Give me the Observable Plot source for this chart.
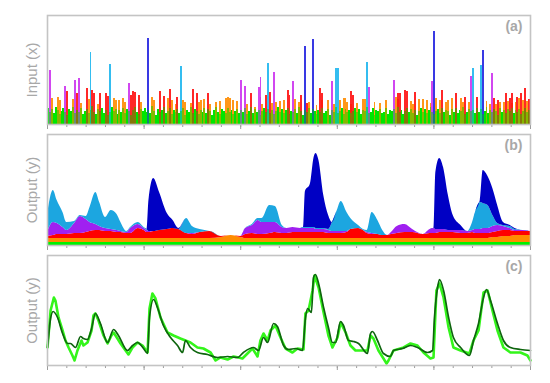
<!DOCTYPE html>
<html><head><meta charset="utf-8">
<script src="https://cdn.jsdelivr.net/npm/d3@7"></script>
<script src="https://cdn.jsdelivr.net/npm/@observablehq/plot@0.6"></script>
<style>
body{margin:0;background:#fff;}
#chart{position:relative;width:550px;height:383px;}
#chart svg{position:absolute;left:0;}
</style></head><body><div id="chart"></div>
<script>
// ---------- shared ----------
const minorTicks = [0,10,20,30,40,50,60,70,80,90,100,110,120,130,140,150,160,170,180,190,200,210,220,230,240,250];
const majorTicks = [0,50,100,150,200,250];
const panelLabels = ["(a)", "(b)", "(c)"];
const yTitles = ["Input (x)", "Output (y)", "Output (y)"];
const layerNames = ["source 1","source 2","source 3","source 4","source 5","source 6"];
const inputColors = ["#00e600","#ff8c00","#ff1010","#cc33ee","#1eb6ee","#2424e0"];
const outputColors = ["#00f000","#ff8c00","#ff0000","#a020f0","#1ca6e0","#0000c4"];

// ---------- panel (a): input spikes ----------
const inGreen = [
16,12,15,11,17,14,10,13,16,12, 9,15,13,17,11,14,12,16,10,13,
15,11,14,18,12,10,15,13,16,11, 14,9,12,17,13,15,10,14,12,16,
11,15,13,9,14,17,12,10,15,13, 16,12,14,11,18,13,9,15,12,14,
17,11,13,16,10,14,12,15,11,13, 16,9,14,12,17,11,15,13,10,14,
12,16,11,15,13,9,14,17,12,10, 15,13,11,16,12,14,10,13,15,11,
14,12,16,10,13,17,11,15,12,14, 9,13,16,12,15,11,14,10,13,17,
12,15,11,14,16,10,13,12,15,11, 17,13,9,14,12,16,11,15,13,10,
14,12,16,11,13,15,9,14,12,17, 11,13,16,10,15,12,14,11,13,16,
12,15,10,14,13,17,11,12,16,9, 14,13,15,11,12,16,10,14,13,15,
11,17,12,14,10,13,16,12,15,11, 14,9,13,16,12,15,11,14,17,12,
10,13,15,11,16,12,14,13,9,15, 12,16,11,14,13,17,10,12,15,13,
14,11,16,12,15,10,13,17,11,14, 12,15,13,9,16,12,14,11,15,13,
16,11,14,12,15,10,13,16,12,14];
const inOrange = [[2,26],[5,27],[6,24],[13,25],[17,21],[21,25],[26,20],[34,26],[35,24],[37,24],[39,26],[40,22],[48,22],
[54,27],[55,24],[62,26],[64,24],[66,20],[70,24],[71,22],[74,21],[78,22],[79,24],[81,25],[84,20],
[87,22],[89,23],[92,26],[93,27],[94,26],[96,24],[98,23],[103,20],[107,17],[111,20],[116,21],[118,22],[120,23],[122,24],
[128,25],[130,22],[135,22],[139,19],[142,24],[145,24],[148,20],[151,24],[153,26],[154,26],[155,22],[157,20],[160,21],[163,25],[164,25],
[169,22],[172,21],[175,24],[180,27],[181,25],[188,23],[189,20],[192,25],[194,25],[196,24],[198,21],[201,26],[203,24],[206,22],
[207,24],[209,26],[214,26],[215,22],[218,22],[227,23],[229,20],[232,20],[234,22],[236,22],[238,23],[240,21],[242,22],[244,26],[246,24],[248,23]];
const inRed = [[10,33],[15,31],[20,36],[23,34],[24,31],[27,31],[30,31],[31,28],[43,29],[44,33],[45,32],[47,29],[58,33],[60,28],[63,35],[67,27],
[75,35],[77,31],[83,31],[105,31],[110,27],[113,29],[115,32],[124,34],[125,29],[131,29],[134,21],[141,36],[142,31],[157,33],[158,29],
[181,31],[182,31],[185,34],[186,33],[190,32],[204,34],[211,31],[216,27],[222,27],[231,26],[233,24],[237,31],[239,26],[240,31],
[243,27],[245,31],[247,36],[249,25]];
const inPurple = [[1,54],[9,38],[14,44],[16,46],[42,41],[100,44],[102,38],[109,37],[110,47],[117,52],[127,43],[147,43],[166,37],[179,44],[199,43],[219,48],[230,51]];
const inLightBlue = [[22,72],[32,60],[69,58],[114,61],[149,56],[150,56],[165,62],[220,56],[224,59]];
const inDarkBlue = [[52,86],[133,78],[137,85],[200,93],[225,74]];

// ---------- panel (b): stacked outputs ----------
const bT = [0,3,5,8,10,14,17,20,22,25,27,30,33,36,38,41,43,47,50,51.5,52.5,55,58,62,65,68,72,75,79,84,90,95,100,102.5,106,109,111,115,118,121.5,124,127,131,132.5,133.5,136,138,139,140.5,143,145.5,147.5,150,152,155,157,161,163.5,165.5,168,171,173.5,176,178,181,185,189,194.5,198,200,201,203,205,207.5,210,214,217.5,220,221.5,224,225.5,228,230.5,233,236,239.5,242,246,250];
const outGreen = [3,3,3,3,3,3,3,3,3,3, 3,3,3,3,3,3,3,3,3,3, 3,3,3,3,3,3,3,3,3,3, 3,3,3,3,3,3,3,3,3,3, 3,3,3,3,3,3,3,3,3,3, 3,3,3,3,3,3,3,3,3,3, 3,3,3,3,3,3,3,3,3,3, 3,3,3,3,3,3,3,3,3,3, 3,3,3,3,3,3,3,3,3];
const outOrange = [4,4,4,4,4,4,4,4,4,4, 4,4,4,4,4,4,4,4,4,4, 4,4,4,4,4,4,4,4,4,4, 5,7,5,4,4,4,4,4,4,4, 4,4,4,4,4,4,4,4,4,4, 4,4,4,4,4,4,4,4,4,4, 4,4,4,4,4,4,4,4,4,4, 4,4,4,4,4,4,4,4,4,4, 4,4,5,5,6,6,7,7,7];
const outRed = [2,3,4,4,4,5,5,6,7,8, 8,7,7,6,6,5,5,10,8,6, 6,7,8,9,10,9,5,4,6,7, 1,0,1,4,5,4,4,5,6,5, 5,6,6,6,6,6,6,6,6,6, 5,5,5,5,6,9,10,8,5,4, 4,3,3,4,5,6,6,4,5,5, 5,6,6,6,6,5,5,6,5,5, 5,5,5,6,6,6,4,4,4];
const outPurple = [4,13,11,7,4,10,17,13,9,6, 4,3,2,2,1,1,5,4,2,2, 1,0,0,0,0,0,0,1,0,0, 0,0,0,6,8,14,12,11,10,6, 5,5,4,4,4,4,4,3,3,3, 3,2,2,2,1,0,0,0,1,1, 0,0,0,2,7,8,3,0,4,5, 4,3,3,2,2,3,2,2,4,4, 5,5,6,6,4,2,1,1,0];
const outLightBlue = [17,32,23,15,8,2,1,3,15,32, 24,11,19,16,9,1,1,2,1,1, 0,0,0,0,0,0,15,7,3,0, 0,0,0,0,1,2,4,17,16,2, 0,0,0,1,1,1,1,1,1,1, 1,9,21,30,19,11,3,1,2,21, 14,5,0,0,0,0,0,0,0,0, 0,0,0,0,0,0,0,8,17,27, 25,23,11,2,1,2,1,0,0];
const outDarkBlue = [0,0,0,0,0,0,0,0,0,0, 0,0,0,0,0,0,0,0,0,0, 31,53,38,16,8,1,0,0,0,0, 0,0,0,0,0,0,0,0,0,0, 0,0,0,0,36,43,70,75,68,33, 14,0,0,0,0,0,0,0,0,0, 0,0,0,0,0,0,0,0,0,0, 57,71,62,35,15,5,0,0,0,2, 33,29,27,18,3,1,1,0,0];

// ---------- panel (c): observed vs model ----------
const obsY = [[0,18],[1.6,55],[3.3,68],[4.1,65],[5.7,48],[7.8,35],[9.3,25],[10.9,18],[12.9,10],[14,5],[15.5,15],[17.6,25],[18.6,20],[20.7,23],[22.8,35],[23.8,50],[24.8,52],[26.4,45],[29,30],[31.1,22],[33.1,30],[34.2,33],[36.2,27],[37.8,22],[40.4,15],[41.9,11],[44,18],[46.6,23],[49.2,20],[51.8,13],[52.8,57],[54.3,72],[55.9,67],[58.5,48],[62.1,33],[65.2,30],[68.8,27],[71.4,25],[74,23],[77.6,18],[80.7,17],[84.4,13],[87,5],[89.5,8],[93.2,6],[96.3,9],[98.9,8],[100.9,7],[103.5,12],[106.1,17],[108.7,9],[110.2,25],[111.8,32],[113.9,25],[115.4,35],[118,40],[120.6,28],[123.2,17],[126.8,13],[129.4,17],[132.5,16],[133.5,52],[135.1,55],[137.2,75],[138.2,90],[140.3,78],[142.9,53],[145.4,30],[147.5,18],[150.1,28],[151.7,43],[154.3,33],[156.8,20],[159.4,15],[163,15],[165.6,15],[167.2,30],[168.7,27],[171.3,15],[173.9,7],[175.5,2],[176.5,5],[179.1,15],[184.3,18],[187.9,22],[191.5,20],[194.6,13],[198.2,7],[199.8,8],[201.3,75],[202.9,82],[205,68],[207.6,38],[210.1,18],[213.8,15],[218.4,12],[220.5,25],[223.1,35],[225.7,73],[227.8,75],[230.3,55],[232.9,35],[236,18],[239.6,13],[244.8,13],[248.4,10],[250,5]];
const modelY = [[0,18],[1.6,47],[2.9,54],[5.2,48],[7.8,32],[10.4,22],[11.9,22],[14.5,18],[17.1,29],[18.6,27],[20.7,26],[22.8,37],[24.8,52],[27.4,42],[31.1,23],[34.2,36],[36.7,30],[41.4,15],[44,20],[46.6,23],[49.7,17],[51.8,12],[52.8,48],[54.9,66],[56.9,58],[60,40],[63.7,28],[67.3,20],[69.9,13],[71.4,25],[74,18],[77.6,13],[82.8,11],[88,8],[93.2,9],[98.3,8],[101.4,13],[106.6,18],[109.2,15],[111.8,28],[113.9,23],[117,42],[119,39],[122.2,20],[124.7,16],[128.4,17],[132,15],[133.5,47],[134.6,57],[136.6,53],[137.7,88],[138.7,91],[140.3,82],[142.9,58],[145.4,38],[147.5,23],[149.1,23],[151.7,44],[153.2,40],[155.8,25],[158.4,24],[161,22],[165.6,12],[167.2,32],[168.2,34],[170.8,25],[173.9,12],[177.5,9],[179.1,15],[183.7,17],[187.9,20],[191.5,18],[196.7,13],[199.3,15],[200.3,48],[201.9,78],[202.9,86],[205,75],[207.6,48],[210.1,28],[213.8,18],[218.4,10],[220.5,25],[223.1,42],[225.7,68],[227.2,76],[229.3,65],[232.9,42],[236,25],[239.6,18],[244.8,16],[250,15]];

// ---------- build ----------
const FONT = "'Liberation Sans', Arial, sans-serif";
const GREY = "#a8a8a8";
function decor(i) {
  return [
    Plot.axisX({ticks: minorTicks, tickSize: 3, tickFormat: () => "", stroke: "#9c9c9c", label: null}),
    Plot.axisX({ticks: majorTicks, tickSize: 5, tickFormat: () => "", stroke: "#9c9c9c", label: null}),
    Plot.frame({stroke: "#c4c4c4", strokeWidth: 1.6}),
    Plot.text([yTitles[i]], {frameAnchor: "left", rotate: -90, textAnchor: "middle", dx: -15, fontSize: 15, fill: GREY}),
    Plot.text([panelLabels[i]], {frameAnchor: "top-right", dx: -8, dy: 6, fontSize: 14, fontWeight: "bold", fill: GREY})
  ];
}
const common = {width: 550, marginLeft: 47, marginRight: 20, style: {background: "none", fontFamily: FONT, overflow: "visible"}};

// panel a
const rowsOf = (arr, s) => arr.map(([t, v]) => ({t0: t, t1: t + 1, v, s}));
const aGreen = inGreen.map((v, i) => ({t0: i, t1: i + 1, v, s: layerNames[0]}));
const aOthers = [
  ...rowsOf(inOrange, layerNames[1]), ...rowsOf(inRed, layerNames[2]), ...rowsOf(inPurple, layerNames[3]),
  ...rowsOf(inLightBlue, layerNames[4]), ...rowsOf(inDarkBlue, layerNames[5])
];
const plotA = Plot.plot({
  ...common, height: 129, marginTop: 15, marginBottom: 5,
  x: {domain: [0, 250]}, y: {domain: [0, 109], axis: null},
  color: {type: "ordinal", domain: layerNames, range: inputColors},
  marks: [
    Plot.rect(aGreen, {x1: "t0", x2: "t1", y1: 0, y2: "v", fill: "s", shapeRendering: "crispEdges"}),
    Plot.rect(aOthers, {x1: "t0", x2: "t1", y1: 0, y2: "v", fill: "s", fillOpacity: 0.9, shapeRendering: "crispEdges"}),
    // translucent green layer shows through where bars overlap
    Plot.rect(aGreen, {x1: "t0", x2: "t1", y1: 0, y2: "v", fill: "s", fillOpacity: 0.42, shapeRendering: "crispEdges"}),
    ...decor(0)
  ]
});

// panel b
const layersB = [outGreen, outOrange, outRed, outPurple, outLightBlue, outDarkBlue];
const bRows = [];
layersB.forEach((vals, k) => vals.forEach((v, j) => bRows.push({t: bT[j], v, s: layerNames[k]})));
const plotB = Plot.plot({
  ...common, height: 121, marginTop: 5, marginBottom: 5,
  x: {domain: [0, 250]}, y: {domain: [0, 111], axis: null},
  color: {type: "ordinal", domain: layerNames, range: outputColors},
  marks: [
    Plot.areaY(bRows, {x: "t", y: "v", z: "s", fill: "s", order: null, curve: "monotone-x"}),
    ...decor(1)
  ]
});

// panel c
const plotC = Plot.plot({
  ...common, height: 133, marginTop: 5, marginBottom: 18,
  x: {domain: [0, 250]}, y: {domain: [0, 110], axis: null},
  marks: [
    Plot.line(obsY, {x: d => d[0], y: d => d[1], stroke: "#33f51a", strokeWidth: 2.6}),
    Plot.line(modelY, {x: d => d[0], y: d => d[1], stroke: "#0e650e", strokeWidth: 1.7, curve: "monotone-x"}),
    ...decor(2)
  ]
});

const chart = document.getElementById("chart");
plotA.style.top = "0px"; plotB.style.top = "129px"; plotC.style.top = "250px";
chart.append(plotA, plotB, plotC);
</script></body></html>
